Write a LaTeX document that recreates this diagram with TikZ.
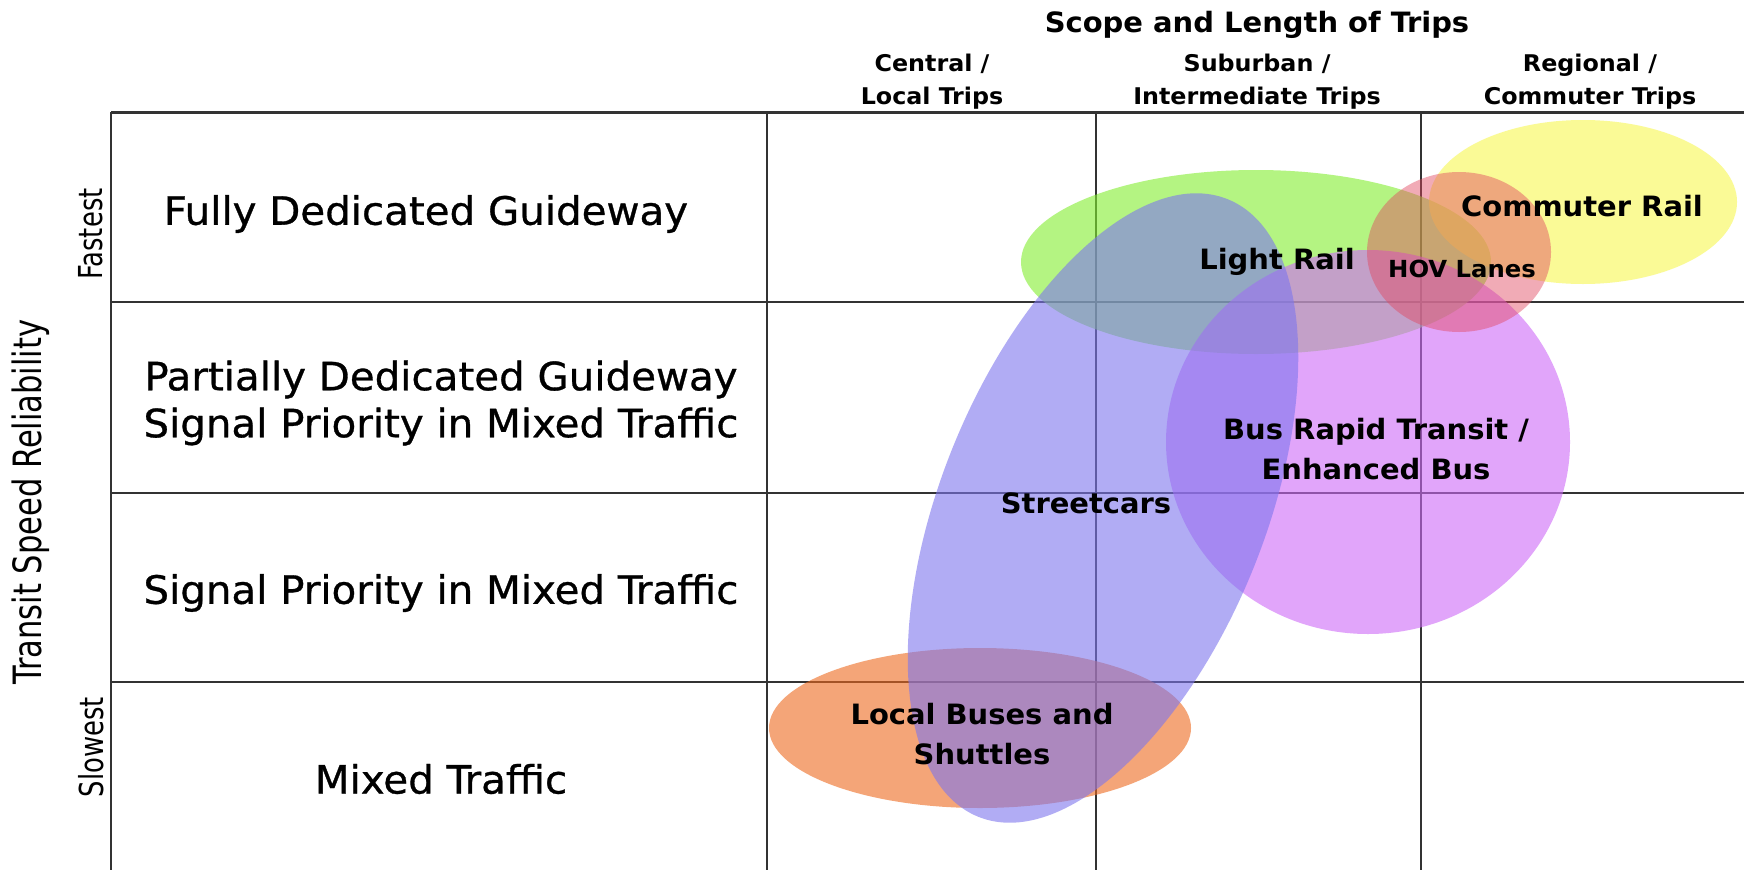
\documentclass[tikz,border=0pt]{standalone}
\usepackage{fontspec}
\setmainfont{DejaVu Sans Condensed}
% wide face for horizontal text, narrow face for the upright axis labels
\newfontfamily\widefont[FakeStretch=1.15]{DejaVu Sans Condensed}
\newfontfamily\rowfont[FakeStretch=1.15,FakeBold=0.8]{DejaVu Sans Condensed}
\newfontfamily\narrowfont[FakeStretch=0.87]{DejaVu Sans Condensed}
\begin{document}
\begin{tikzpicture}[x=1pt,y=-1pt,
  gridline/.style={line width=2pt,draw=black!80},
  blob/.style={fill opacity=0.6},
  rowlabel/.style={font=\rowfont\fontsize{39}{47}\selectfont,align=center},
  modelabel/.style={font=\widefont\bfseries\fontsize{28}{40}\selectfont,align=center,text=black},
  colhead/.style={font=\widefont\bfseries\fontsize{23}{33}\selectfont,align=center},
  sidelabel/.style={font=\narrowfont\fontsize{33}{36}\selectfont,rotate=90}]
\definecolor{railgreen}{RGB}{130,238,47}
\definecolor{railyellow}{RGB}{247,247,80}
\definecolor{hovpink}{RGB}{225,70,95}
\definecolor{brtviolet}{RGB}{205,105,247}
\definecolor{carblue}{RGB}{125,118,238}
\definecolor{busorange}{RGB}{238,105,30}
\useasboundingbox (0,0) rectangle (1744,870);
\fill[white] (0,0) rectangle (1744,870);

% grid of service levels and trip lengths
\draw[gridline,line width=3pt] (111,112) -- (1744,112);
\draw[gridline] (111,112) -- (111,870);
\draw[gridline] (767,112) -- (767,870);
\draw[gridline] (1096,112) -- (1096,870);
\draw[gridline] (1421,112) -- (1421,870);
\draw[gridline] (111,302) -- (1744,302);
\draw[gridline] (111,493) -- (1744,493);
\draw[gridline] (111,682) -- (1744,682);

% transit modes as translucent regions
\fill[blob,railgreen] (1256,262) ellipse [x radius=235pt,y radius=92pt];
\fill[blob,railyellow] (1583,202) ellipse [x radius=154pt,y radius=82pt];
\fill[blob,brtviolet] (1368,442) ellipse [x radius=202pt,y radius=192pt];
\fill[blob,busorange] (980,728) ellipse [x radius=211pt,y radius=80pt];
\fill[blob,carblue,rotate around={68:(1103,508)}] (1103,508) ellipse [x radius=333pt,y radius=162pt];
\fill[blob,hovpink,fill opacity=0.45] (1459,252) ellipse [x radius=92pt,y radius=80pt];

% axis titles
\node[colhead,font=\widefont\bfseries\fontsize{28}{34}\selectfont] (scope) at (1257,25) {Scope and Length of Trips};
\node[colhead] (central) at (932,82) {Central /\\Local Trips};
\node[colhead] (suburban) at (1257,82) {Suburban /\\Intermediate Trips};
\node[colhead] (regional) at (1590,82) {Regional /\\Commuter Trips};
\node[sidelabel,font=\narrowfont\fontsize{39}{44}\selectfont] (speed) at (31,502) {Transit Speed Reliability};
\node[sidelabel] (fast) at (91,234) {Fastest};
\node[sidelabel] (slow) at (91,747) {Slowest};

% service levels
\node[rowlabel] (full) at (426,214) {Fully Dedicated Guideway};
\node[rowlabel] (partial) at (441,403) {Partially Dedicated Guideway\\Signal Priority in Mixed Traffic};
\node[rowlabel] (signal) at (441,593) {Signal Priority in Mixed Traffic};
\node[rowlabel] (mixed) at (441,779) {Mixed Traffic};

% mode names
\node[modelabel] (lightrail) at (1277,262) {Light Rail};
\node[modelabel,font=\widefont\bfseries\fontsize{23.5}{30}\selectfont] (hov) at (1462,269) {HOV Lanes};
\node[modelabel] (commuter) at (1582,206) {Commuter Rail};
\node[modelabel] (brt) at (1376,449) {Bus Rapid Transit /\\Enhanced Bus};
\node[modelabel] (streetcar) at (1086,503) {Streetcars};
\node[modelabel] (localbus) at (982,734) {Local Buses and\\Shuttles};
\end{tikzpicture}
\end{document}
